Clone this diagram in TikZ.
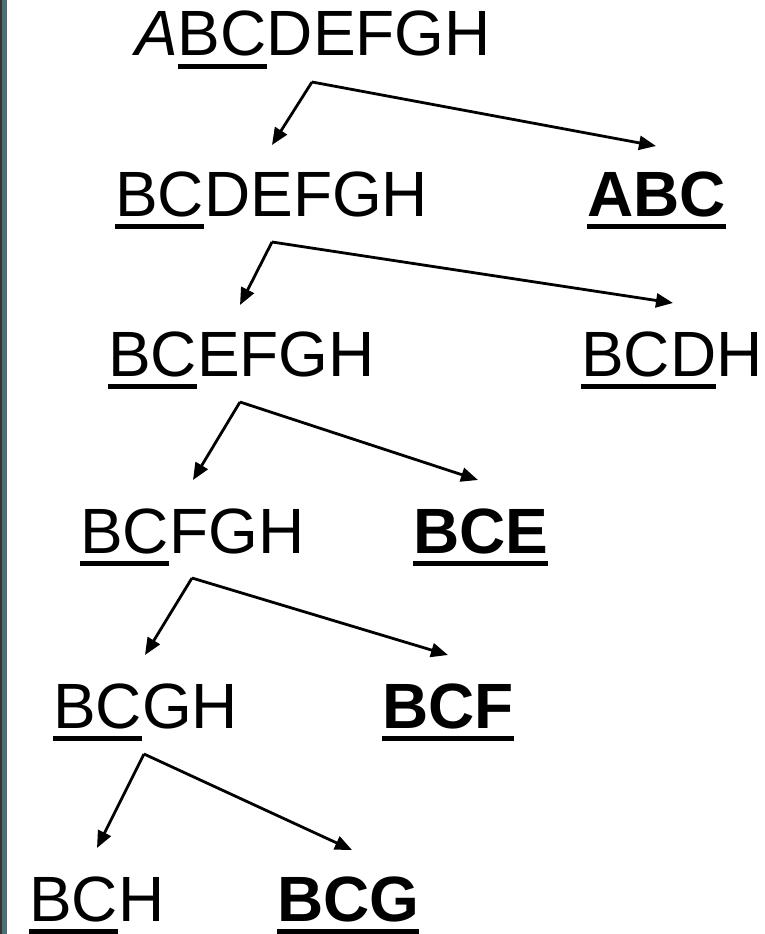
\documentclass[tikz,border=0pt]{standalone}
\usepackage{fontspec}
\setmainfont{Liberation Sans}
\usetikzlibrary{arrows.meta}
\newsavebox\ulbox
\newcommand\ulx[1]{\sbox\ulbox{#1}\rlap{\rule[-13pt]{\wd\ulbox}{5pt}}\usebox\ulbox}
\tikzset{
  lbl/.style={anchor=base west, inner sep=0pt, font=\fontsize{64}{70}\selectfont},
  arr/.style={line width=2.8pt, -{Triangle[length=17pt,width=14pt]}},
}
\begin{document}
\begin{tikzpicture}[x=1pt,y=-1pt]
\useasboundingbox (0,0) rectangle (764,934);
\fill[white] (0,0) rectangle (764,934);
\fill[black!80] (0,0) rectangle (1.5,934);
\fill[fill={rgb,255:red,74;green,111;blue,119}] (1.5,0) rectangle (7,934);
% row 1
\node[lbl] (r1) at (135,56) {\textit{A}\ulx{BC}DEFGH};
% row 2
\node[lbl] (r2) at (115,216) {\ulx{BC}DEFGH};
\node[lbl] (abc) at (587,216) {\ulx{\textbf{ABC}}};
% row 3
\node[lbl] (r3) at (108,376) {\ulx{BC}EFGH};
\node[lbl] (bcdh) at (581,376) {\ulx{BCD}H};
% row 4
\node[lbl] (r4) at (80,553) {\ulx{BC}FGH};
\node[lbl] (bce) at (413,553) {\ulx{\textbf{BCE}}};
% row 5
\node[lbl] (r5) at (53,728) {\ulx{BC}GH};
\node[lbl] (bcf) at (382,728) {\ulx{\textbf{BCF}}};
% row 6
\node[lbl] (r6) at (29,921) {\ulx{BC}H};
\node[lbl] (bcg) at (277,921) {\ulx{\textbf{BCG}}};
% connector points
\coordinate (c1) at (312,82);  \coordinate (l1) at (272,145); \coordinate (q1) at (656,146);
\coordinate (c2) at (272,242); \coordinate (l2) at (240,305); \coordinate (q2) at (673,303);
\coordinate (c3) at (240,402); \coordinate (l3) at (193,480); \coordinate (q3) at (478,480);
\coordinate (c4) at (192,578); \coordinate (l4) at (145,655); \coordinate (q4) at (448,655);
\coordinate (c5) at (144,754); \coordinate (l5) at (97,848);  \coordinate (q5) at (352,850);
\foreach \i in {1,...,5}{
  \draw[arr] (c\i) -- (l\i);
  \draw[arr] (c\i) -- (q\i);
}
\end{tikzpicture}
\end{document}
